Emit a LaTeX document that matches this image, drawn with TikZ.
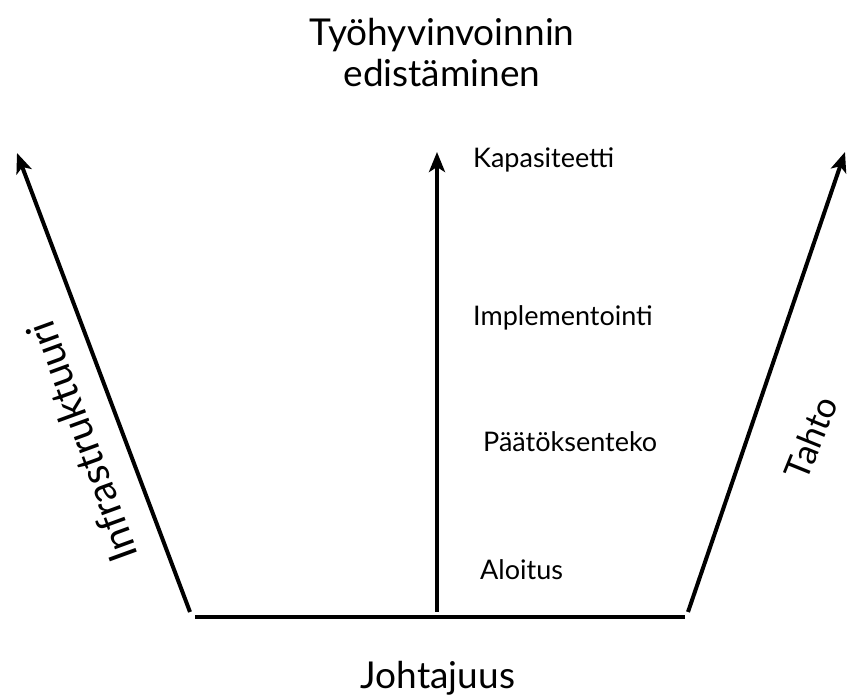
\documentclass[tikz,border=0pt]{standalone}
\usepackage{fontspec}
\setmainfont{Lato}
\usetikzlibrary{arrows.meta, positioning}

\begin{document}
\begin{tikzpicture}[x=1pt, y=1pt,
    axisline/.style={line width=4pt, -{Stealth[length=20pt, width=16pt, inset=5pt]}},
    baseline/.style={line width=4.5pt},
    steplabel/.style={anchor=west, inner sep=0pt, font=\fontsize{27}{30}\selectfont},
    sidelabel/.style={inner sep=0pt, font=\fontsize{37}{41}\selectfont}]
  \useasboundingbox (0,0) rectangle (847,700);

  % base and arrow ends
  \coordinate (baseL) at (195,83);
  \coordinate (baseR) at (685,83);
  \coordinate (leftfoot) at (190,88);
  \coordinate (lefttip) at (17,547);
  \coordinate (midfoot) at (437,88);
  \coordinate (midtip) at (437,548);
  \coordinate (rightfoot) at (688,88);
  \coordinate (righttip) at (845,548);

  \draw[baseline] (baseL) -- (baseR);
  \draw[axisline] (leftfoot) -- (lefttip);
  \draw[axisline] (midfoot) -- (midtip);
  \draw[axisline] (rightfoot) -- (righttip);

  % title and side labels
  \node[sidelabel, align=center] (goal) at (442,647) {Työhyvinvoinnin\\edistäminen};
  \node[sidelabel] (lead) at (438,22) {Johtajuus};
  \node[sidelabel, rotate=110, font=\fontsize{40}{44}\selectfont] (infra) at (82,258) {Infrastruktuuri};
  \node[sidelabel, rotate=68, font=\fontsize{35}{39}\selectfont] (will) at (811,262) {Tahto};

  % phases along the middle arrow
  \node[steplabel] (cap) at (473,540) {Kapasiteetti};
  \node[steplabel] (impl) at (473,382) {Implementointi};
  \node[steplabel] (dec) at (483,258) {Päätöksenteko};
  \node[steplabel] (start) at (480,130) {Aloitus};
\end{tikzpicture}
\end{document}
